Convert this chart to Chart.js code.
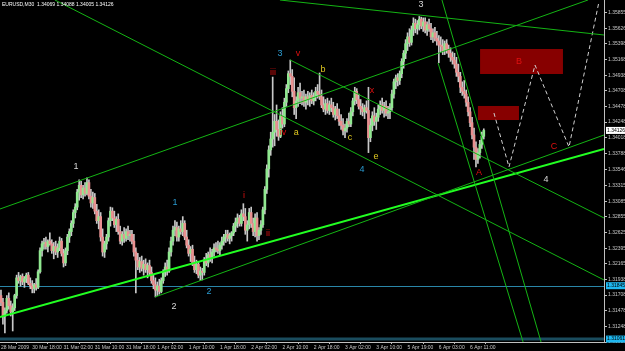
<!DOCTYPE html>
<html>
<head>
<meta charset="utf-8">
<script src="https://cdn.jsdelivr.net/npm/chart.js@4.4.1/dist/chart.umd.min.js"></script>
<style>
  html, body { margin: 0; padding: 0; background: #000; }
  canvas { display: block; background: #000; }
</style>
</head>
<body>
<canvas id="chart" width="625" height="351"></canvas>
<script>
// EURUSD M30 candles, bar index 0..247
const open = [1.3170,1.3160,1.3140,1.3148,1.3166,1.3155,1.3146,1.3152,1.3170,1.3196,
 1.3192,1.3198,1.3190,1.3195,1.3200,1.3188,1.3184,1.3180,1.3186,1.3182,
 1.3205,1.3236,1.3246,1.3248,1.3242,1.3250,1.3246,1.3236,1.3242,1.3234,
 1.3240,1.3250,1.3232,1.3218,1.3236,1.3256,1.3264,1.3276,1.3292,1.3300,
 1.3322,1.3332,1.3318,1.3328,1.3320,1.3336,1.3316,1.3306,1.3314,1.3294,
 1.3280,1.3286,1.3256,1.3234,1.3246,1.3256,1.3280,1.3294,1.3284,1.3274,
 1.3282,1.3264,1.3250,1.3260,1.3254,1.3264,1.3258,1.3260,1.3250,1.3234,
 1.3222,1.3212,1.3220,1.3210,1.3216,1.3208,1.3214,1.3204,1.3192,1.3186,
 1.3178,1.3184,1.3176,1.3192,1.3204,1.3212,1.3206,1.3234,1.3250,1.3266,
 1.3270,1.3256,1.3268,1.3264,1.3276,1.3256,1.3244,1.3232,1.3238,1.3218,
 1.3208,1.3216,1.3200,1.3206,1.3204,1.3222,1.3218,1.3230,1.3226,1.3234,
 1.3240,1.3238,1.3236,1.3244,1.3250,1.3256,1.3260,1.3254,1.3258,1.3262,
 1.3272,1.3278,1.3284,1.3276,1.3290,1.3286,1.3266,1.3274,1.3292,1.3276,
 1.3264,1.3284,1.3258,1.3266,1.3274,1.3296,1.3326,1.3356,1.3384,1.3400,
 1.3410,1.3426,1.3414,1.3404,1.3434,1.3422,1.3454,1.3474,1.3496,1.3492,
 1.3470,1.3446,1.3456,1.3468,1.3460,1.3462,1.3454,1.3462,1.3458,1.3464,
 1.3456,1.3462,1.3470,1.3466,1.3462,1.3450,1.3444,1.3452,1.3442,1.3450,
 1.3446,1.3436,1.3444,1.3434,1.3426,1.3420,1.3412,1.3416,1.3426,1.3422,
 1.3440,1.3456,1.3470,1.3458,1.3448,1.3444,1.3440,1.3446,1.3442,1.3402,
 1.3420,1.3434,1.3426,1.3432,1.3444,1.3450,1.3442,1.3448,1.3438,1.3440,
 1.3446,1.3466,1.3484,1.3490,1.3486,1.3496,1.3514,1.3526,1.3540,1.3550,
 1.3542,1.3560,1.3570,1.3562,1.3568,1.3576,1.3566,1.3572,1.3560,1.3568,
 1.3562,1.3550,1.3556,1.3548,1.3544,1.3538,1.3536,1.3530,1.3540,1.3532,
 1.3526,1.3520,1.3516,1.3510,1.3498,1.3492,1.3476,1.3470,1.3466,1.3454,
 1.3440,1.3424,1.3406,1.3388,1.3370,1.3380,1.3392,1.3404];
const high = [1.3178,1.3166,1.3152,1.3170,1.3174,1.3162,1.3158,1.3172,1.3200,1.3204,
 1.3200,1.3202,1.3198,1.3203,1.3204,1.3196,1.3192,1.3188,1.3195,1.3208,
 1.3240,1.3250,1.3254,1.3256,1.3252,1.3262,1.3252,1.3248,1.3250,1.3246,
 1.3256,1.3254,1.3238,1.3240,1.3260,1.3268,1.3280,1.3296,1.3305,1.3326,
 1.3340,1.3338,1.3332,1.3336,1.3343,1.3340,1.3326,1.3322,1.3320,1.3304,
 1.3296,1.3292,1.3268,1.3250,1.3260,1.3284,1.3300,1.3299,1.3294,1.3286,
 1.3290,1.3272,1.3264,1.3270,1.3268,1.3272,1.3266,1.3266,1.3260,1.3240,
 1.3232,1.3226,1.3228,1.3222,1.3224,1.3218,1.3222,1.3212,1.3200,1.3196,
 1.3190,1.3194,1.3196,1.3208,1.3218,1.3222,1.3240,1.3256,1.3272,1.3280,
 1.3278,1.3272,1.3280,1.3286,1.3280,1.3266,1.3252,1.3242,1.3244,1.3228,
 1.3222,1.3220,1.3212,1.3210,1.3226,1.3232,1.3234,1.3240,1.3238,1.3246,
 1.3248,1.3250,1.3248,1.3256,1.3260,1.3266,1.3266,1.3262,1.3264,1.3276,
 1.3284,1.3290,1.3288,1.3296,1.3305,1.3298,1.3280,1.3298,1.3300,1.3284,
 1.3290,1.3292,1.3270,1.3280,1.3300,1.3330,1.3362,1.3390,1.3410,1.3491,
 1.3436,1.3450,1.3428,1.3440,1.3446,1.3460,1.3480,1.3500,1.3516,1.3502,
 1.3490,1.3462,1.3476,1.3482,1.3470,1.3472,1.3466,1.3470,1.3468,1.3472,
 1.3468,1.3476,1.3480,1.3497,1.3472,1.3462,1.3458,1.3460,1.3456,1.3460,
 1.3454,1.3448,1.3452,1.3444,1.3436,1.3430,1.3422,1.3430,1.3438,1.3446,
 1.3460,1.3476,1.3474,1.3466,1.3458,1.3452,1.3450,1.3456,1.3476,1.3430,
 1.3440,1.3446,1.3438,1.3450,1.3456,1.3460,1.3454,1.3456,1.3448,1.3452,
 1.3472,1.3488,1.3494,1.3496,1.3500,1.3518,1.3530,1.3546,1.3556,1.3562,
 1.3566,1.3578,1.3576,1.3574,1.3580,1.3579,1.3578,1.3578,1.3572,1.3576,
 1.3570,1.3562,1.3564,1.3558,1.3552,1.3550,1.3546,1.3544,1.3546,1.3538,
 1.3534,1.3528,1.3526,1.3520,1.3510,1.3498,1.3484,1.3486,1.3472,1.3462,
 1.3446,1.3432,1.3416,1.3396,1.3386,1.3398,1.3410,1.3415];
const low = [1.3155,1.3128,1.3115,1.3144,1.3150,1.3140,1.3118,1.3148,1.3166,1.3188,
 1.3184,1.3186,1.3182,1.3189,1.3186,1.3180,1.3174,1.3174,1.3178,1.3180,
 1.3203,1.3228,1.3238,1.3238,1.3234,1.3244,1.3232,1.3224,1.3230,1.3226,
 1.3236,1.3228,1.3212,1.3214,1.3230,1.3248,1.3258,1.3270,1.3284,1.3296,
 1.3310,1.3314,1.3312,1.3316,1.3318,1.3312,1.3300,1.3298,1.3290,1.3276,
 1.3268,1.3250,1.3228,1.3226,1.3238,1.3250,1.3272,1.3280,1.3270,1.3264,
 1.3260,1.3246,1.3244,1.3248,1.3250,1.3252,1.3250,1.3246,1.3228,1.3174,
 1.3208,1.3204,1.3206,1.3200,1.3204,1.3196,1.3200,1.3188,1.3180,1.3168,
 1.3170,1.3172,1.3174,1.3188,1.3198,1.3200,1.3204,1.3228,1.3244,1.3258,
 1.3250,1.3250,1.3260,1.3258,1.3252,1.3240,1.3228,1.3220,1.3214,1.3204,
 1.3202,1.3196,1.3192,1.3193,1.3200,1.3214,1.3212,1.3220,1.3218,1.3228,
 1.3234,1.3232,1.3230,1.3238,1.3244,1.3248,1.3250,1.3246,1.3250,1.3258,
 1.3264,1.3270,1.3272,1.3272,1.3280,1.3260,1.3250,1.3268,1.3270,1.3258,
 1.3256,1.3250,1.3252,1.3260,1.3270,1.3290,1.3320,1.3344,1.3376,1.3388,
 1.3390,1.3404,1.3398,1.3402,1.3416,1.3418,1.3448,1.3468,1.3480,1.3462,
 1.3436,1.3430,1.3448,1.3452,1.3450,1.3448,1.3444,1.3450,1.3448,1.3452,
 1.3450,1.3456,1.3460,1.3458,1.3446,1.3440,1.3436,1.3438,1.3436,1.3440,
 1.3432,1.3428,1.3430,1.3420,1.3414,1.3406,1.3402,1.3410,1.3418,1.3418,
 1.3434,1.3450,1.3452,1.3444,1.3436,1.3434,1.3430,1.3438,1.3380,1.3396,
 1.3412,1.3420,1.3414,1.3426,1.3436,1.3438,1.3432,1.3434,1.3430,1.3430,
 1.3442,1.3460,1.3474,1.3478,1.3480,1.3490,1.3504,1.3518,1.3530,1.3536,
 1.3538,1.3552,1.3556,1.3554,1.3560,1.3562,1.3558,1.3556,1.3552,1.3558,
 1.3546,1.3542,1.3544,1.3538,1.3512,1.3528,1.3524,1.3524,1.3526,1.3520,
 1.3514,1.3510,1.3504,1.3492,1.3484,1.3468,1.3464,1.3460,1.3448,1.3434,
 1.3418,1.3400,1.3370,1.3359,1.3364,1.3372,1.3386,1.3400];
const close = [1.3160,1.3140,1.3148,1.3166,1.3155,1.3146,1.3152,1.3170,1.3196,1.3192,
 1.3198,1.3190,1.3195,1.3200,1.3188,1.3184,1.3180,1.3186,1.3182,1.3205,
 1.3236,1.3246,1.3248,1.3242,1.3250,1.3246,1.3236,1.3242,1.3234,1.3240,
 1.3250,1.3232,1.3218,1.3236,1.3256,1.3264,1.3276,1.3292,1.3300,1.3322,
 1.3332,1.3318,1.3328,1.3320,1.3336,1.3316,1.3306,1.3314,1.3294,1.3280,
 1.3286,1.3256,1.3234,1.3246,1.3256,1.3280,1.3294,1.3284,1.3274,1.3282,
 1.3264,1.3250,1.3260,1.3254,1.3264,1.3258,1.3260,1.3250,1.3234,1.3222,
 1.3212,1.3220,1.3210,1.3216,1.3208,1.3214,1.3204,1.3192,1.3186,1.3178,
 1.3184,1.3176,1.3192,1.3204,1.3212,1.3206,1.3234,1.3250,1.3266,1.3270,
 1.3256,1.3268,1.3264,1.3276,1.3256,1.3244,1.3232,1.3238,1.3218,1.3208,
 1.3216,1.3200,1.3206,1.3204,1.3222,1.3218,1.3230,1.3226,1.3234,1.3240,
 1.3238,1.3236,1.3244,1.3250,1.3256,1.3260,1.3254,1.3258,1.3262,1.3272,
 1.3278,1.3284,1.3276,1.3290,1.3286,1.3266,1.3274,1.3292,1.3276,1.3264,
 1.3284,1.3258,1.3266,1.3274,1.3296,1.3326,1.3356,1.3384,1.3400,1.3410,
 1.3426,1.3414,1.3404,1.3434,1.3422,1.3454,1.3474,1.3496,1.3492,1.3470,
 1.3446,1.3456,1.3468,1.3460,1.3462,1.3454,1.3462,1.3458,1.3464,1.3456,
 1.3462,1.3470,1.3466,1.3462,1.3450,1.3444,1.3452,1.3442,1.3450,1.3446,
 1.3436,1.3444,1.3434,1.3426,1.3420,1.3412,1.3416,1.3426,1.3422,1.3440,
 1.3456,1.3470,1.3458,1.3448,1.3444,1.3440,1.3446,1.3442,1.3402,1.3420,
 1.3434,1.3426,1.3432,1.3444,1.3450,1.3442,1.3448,1.3438,1.3440,1.3446,
 1.3466,1.3484,1.3490,1.3486,1.3496,1.3514,1.3526,1.3540,1.3550,1.3542,
 1.3560,1.3570,1.3562,1.3568,1.3576,1.3566,1.3572,1.3560,1.3568,1.3562,
 1.3550,1.3556,1.3548,1.3544,1.3538,1.3536,1.3530,1.3540,1.3532,1.3526,
 1.3520,1.3516,1.3510,1.3498,1.3492,1.3476,1.3470,1.3466,1.3454,1.3440,
 1.3424,1.3406,1.3388,1.3370,1.3380,1.3392,1.3404,1.34126];

// axes
const xTickBars = [0,16,32,48,64,80,96,112,128,144,160,176,192,208,224,240];
const xTickLabels = ["28 Mar 2009","30 Mar 18:00","31 Mar 02:00","31 Mar 10:00","31 Mar 18:00",
  "1 Apr 02:00","1 Apr 10:00","1 Apr 18:00","2 Apr 02:00","2 Apr 10:00","2 Apr 18:00",
  "3 Apr 02:00","3 Apr 10:00","5 Apr 19:00","6 Apr 03:00","6 Apr 11:00"];
const yTickValues = [1.35855,1.35626,1.35398,1.35168,1.34938,1.34708,1.34478,1.34248,1.34018,
  1.33788,1.33546,1.33315,1.33085,1.32855,1.32625,1.32395,1.32165,1.31938,1.31708,1.31478,1.31248,1.31018];
const priceTop = 1.36042, priceBottom = 1.31018;
const barFirst = -0.5, barLast = 308.5;

// trendlines: [bar, price] at each end
const trendStart = [[27.6,1.36042],[147.9,1.35161],[-0.5,1.32972],[142.7,1.36042],[225.6,1.36042],[223.6,1.35117],[78.8,1.31679],[-0.5,1.31385]];
const trendEnd   = [[308.5,1.31929],[308.5,1.32840],[300.3,1.36042],[308.5,1.35528],[276.3,1.31018],[267.1,1.31018],[308.5,1.34059],[308.5,1.33853]];
const trendWidth = [1,1,1,1,1,1,1,2];

// projected zigzag
const zigBars = [252.2,259.9,273.2,290.6,305.9];
const zigPrices = [1.34382,1.33589,1.35087,1.33883,1.36013];

// red zones
const zoneBar0 = [244.0,245.1], zoneBar1 = [265.0,287.5];
const zoneTop = [1.34485,1.35322], zoneBottom = [1.34279,1.34955];

// wave labels
const labelText  = ["1","2","3","4", "1","2","3","4", "i","ii","iii","iv","v","x","A","B","C", "a","b","c","e"];
const labelBar   = [38.4,88.5,214.9,278.8, 89.0,106.4,142.7,184.7, 124.3,136.6,139.2,144.3,152.0,189.8,244.5,265.0,282.9, 151.0,164.7,178.6,191.9];
const labelPrice = [1.33589,1.31532,1.35983,1.33398, 1.33060,1.31753,1.35263,1.33545, 1.33177,1.32605,1.34970,1.34088,1.35249,1.34705,1.33501,1.35131,1.33897, 1.34088,1.35028,1.34015,1.33736];
const labelKind  = ["w","w","w","w","t","t","t","t","r","r","r","r","r","r","r","r","r","y","y","y","y"];
const kindColor = { w: '#d8d8d8', t: '#2a9ad0', r: '#e01010', y: '#e0c820' };

// horizontal price lines and axis price boxes
const hLinePrices = [1.31845, 1.31061];
const boxPrices = [1.34126, 1.31845, 1.31061];

const bullColor = '#90e890', bearColor = '#ea9090', wickColor = '#c8c8c8';
const smallFont = '"Liberation Sans", Arial, sans-serif';

const idx = open.map((_, i) => i);
const wickData = idx.map(i => ({ x: i, y: [low[i], high[i]] }));
const bodyData = idx.map(i => ({ x: i, y: [open[i], close[i]] }));
const bodyColors = idx.map(i => close[i] >= open[i] ? bullColor : bearColor);

const lineSets = trendStart.map((s, k) => ({
  type: 'line',
  data: [{ x: s[0], y: s[1] }, { x: trendEnd[k][0], y: trendEnd[k][1] }],
  borderColor: trendWidth[k] > 1 ? '#22ff22' : '#14b414',
  borderWidth: trendWidth[k],
  pointRadius: 0,
  order: 0
}));

const mtObjects = {
  id: 'mtObjects',
  beforeDatasetsDraw(chart) {
    const { ctx, chartArea: a, scales: { x, y } } = chart;
    ctx.save();
    ctx.beginPath();
    ctx.rect(a.left, a.top, a.right - a.left, a.bottom - a.top);
    ctx.clip();
    ctx.fillStyle = '#870000';
    zoneBar0.forEach((b, k) => {
      const x0 = x.getPixelForValue(b), x1 = x.getPixelForValue(zoneBar1[k]);
      const y0 = y.getPixelForValue(zoneTop[k]), y1 = y.getPixelForValue(zoneBottom[k]);
      ctx.fillRect(x0, y0, x1 - x0, y1 - y0);
    });
    // bid line and bottom line
    ctx.strokeStyle = '#2a86a8'; ctx.lineWidth = 1;
    let py = Math.round(y.getPixelForValue(hLinePrices[0])) + 0.5;
    ctx.beginPath(); ctx.moveTo(a.left, py); ctx.lineTo(a.right, py); ctx.stroke();
    ctx.strokeStyle = '#1a4c5e'; ctx.lineWidth = 3;
    py = y.getPixelForValue(hLinePrices[1]);
    ctx.beginPath(); ctx.moveTo(a.left, py); ctx.lineTo(a.right, py); ctx.stroke();
    ctx.restore();
  },
  afterDatasetsDraw(chart) {
    const { ctx, scales: { x, y } } = chart;
    ctx.save();
    ctx.font = '9px "Liberation Sans", Arial, sans-serif';
    ctx.textAlign = 'center';
    ctx.textBaseline = 'middle';
    labelText.forEach((t, k) => {
      ctx.fillStyle = kindColor[labelKind[k]];
      ctx.fillText(t, x.getPixelForValue(labelBar[k]), y.getPixelForValue(labelPrice[k]));
    });
    ctx.restore();
  },
  afterDraw(chart) {
    const { ctx, chartArea: a, scales: { y } } = chart;
    ctx.save();
    ctx.font = '5px ' + smallFont;
    ctx.textBaseline = 'middle';
    ctx.textAlign = 'left';
    boxPrices.forEach((p, k) => {
      const py = y.getPixelForValue(p);
      ctx.fillStyle = k === 0 ? '#ffffff' : '#1fb8f0';
      ctx.fillRect(a.right + 2, py - 3.5, 20, 7);
      ctx.fillStyle = '#000';
      ctx.fillText(p.toFixed(5), a.right + 3, py);
    });
    ctx.fillStyle = '#ffffff';
    ctx.fillText('EURUSD,M30  1.34069 1.34088 1.34005 1.34126', 2, 5);
    ctx.restore();
  }
};

new Chart(document.getElementById('chart'), {
  type: 'bar',
  data: {
    datasets: [
      ...lineSets,
      {
        type: 'line',
        data: zigBars.map((b, k) => ({ x: b, y: zigPrices[k] })),
        borderColor: '#d0d0d0', borderWidth: 1, borderDash: [4, 3],
        pointRadius: 0, order: 0
      },
      { data: bodyData, backgroundColor: bodyColors, barThickness: 2, grouped: false, minBarLength: 1, borderWidth: 0, order: 1 },
      { data: wickData, backgroundColor: wickColor, barThickness: 1, grouped: false, borderWidth: 0, order: 2 }
    ]
  },
  options: {
    responsive: false,
    animation: false,
    events: [],
    layout: { padding: 0 },
    plugins: { legend: { display: false }, tooltip: { enabled: false } },
    scales: {
      x: {
        type: 'linear', min: barFirst, max: barLast, offset: false, position: 'bottom',
        afterBuildTicks: s => { s.ticks = xTickBars.map(v => ({ value: v })); },
        afterFit: s => { s.height = 9; s.paddingLeft = 0; s.paddingRight = 0; },
        ticks: {
          autoSkip: false, maxRotation: 0, minRotation: 0, align: 'start', padding: 1,
          color: '#c8c8c8', font: { family: smallFont, size: 5 },
          callback: (v, i) => xTickLabels[i]
        },
        grid: { display: true, drawOnChartArea: false, drawTicks: true, tickLength: 2, color: '#c0c0c0' },
        border: { display: true, color: '#c0c0c0' }
      },
      y: {
        type: 'linear', min: priceBottom, max: priceTop, position: 'right',
        afterBuildTicks: s => { s.ticks = yTickValues.map(v => ({ value: v })); },
        afterFit: s => { s.width = 21; s.paddingTop = 0; s.paddingBottom = 0; },
        ticks: {
          autoSkip: false, padding: 1, color: '#c8c8c8', font: { family: smallFont, size: 5 },
          callback: v => v.toFixed(5)
        },
        grid: { display: true, drawOnChartArea: false, drawTicks: true, tickLength: 3, color: '#c0c0c0' },
        border: { display: true, color: '#c0c0c0' }
      }
    }
  },
  plugins: [mtObjects]
});
</script>
</body>
</html>
